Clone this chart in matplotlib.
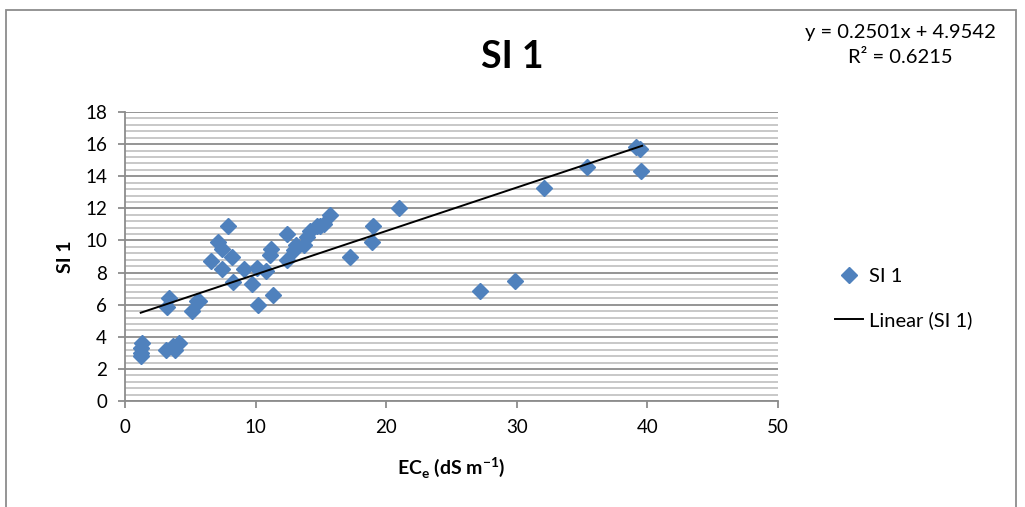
import numpy as np
import matplotlib
matplotlib.use('Agg')
import matplotlib.pyplot as plt
from matplotlib.patches import Rectangle
from matplotlib.ticker import MultipleLocator

plt.rcParams['font.family'] = ['Lato', 'DejaVu Sans']
plt.rcParams['mathtext.fontset'] = 'custom'
plt.rcParams['mathtext.rm'] = 'Lato'
plt.rcParams['mathtext.bf'] = 'Lato:bold'

# data
ece = [1.2, 1.2, 1.3, 1.2, 3.1, 3.7, 3.8, 4.1, 3.2, 3.4, 5.1, 5.5, 5.7,
       6.6, 7.1, 7.4, 7.4, 7.9, 8.2, 8.3, 9.1, 9.7, 10.1, 10.2, 10.8,
       11.3, 11.1, 11.2, 12.4, 12.4, 12.9, 13.1, 13.7, 13.9, 14.2, 14.7,
       14.9, 15.2, 15.7, 17.2, 18.9, 19.0, 21.0, 27.2, 29.9, 32.1, 35.4,
       39.1, 39.4, 39.5]
si1 = [2.8, 3.3, 3.6, 3.0, 3.2, 3.4, 3.2, 3.6, 5.85, 6.4, 5.6, 6.2, 6.2,
       8.7, 9.9, 9.5, 8.2, 10.9, 9.0, 7.4, 8.2, 7.3, 8.3, 6.0, 8.1,
       6.6, 9.1, 9.5, 10.4, 8.8, 9.4, 9.7, 9.7, 10.2, 10.6, 10.9,
       10.9, 11.0, 11.6, 9.0, 9.9, 10.9, 12.0, 6.85, 7.5, 13.3, 14.6,
       15.8, 15.7, 14.3]

# trend line as drawn in the chart (end points) and its label
trend_x = [1.2, 39.6]
trend_y = [5.5, 15.9]
slope = 0.2501
intercept = 4.9542
r2 = 0.6215

blue = '#4F81BD'

fig = plt.figure(figsize=(10.25, 5.07), dpi=100)
ax = fig.add_axes([0.122, 0.209, 0.637, 0.570])

ax.set_axisbelow(True)
ax.yaxis.set_major_locator(MultipleLocator(2))
ax.yaxis.set_minor_locator(MultipleLocator(0.4))
ax.xaxis.set_major_locator(MultipleLocator(10))
ax.grid(axis='y', which='minor', color='#C4C4C4', lw=1.3)
ax.grid(axis='y', which='major', color='#8C8C8C', lw=1.3)

ax.plot(ece, si1, 'D', color=blue, ms=8.5, mec=blue, label='SI 1', zorder=3)
ax.plot(trend_x, trend_y, color='black', lw=1.4, label='Linear (SI 1)', zorder=4)

ax.set_xlim(0, 50)
ax.set_ylim(0, 18)
for s in ['top', 'right']:
    ax.spines[s].set_visible(False)
for s in ['left', 'bottom']:
    ax.spines[s].set_color('#8C8C8C')
    ax.spines[s].set_linewidth(1.3)
ax.tick_params(which='major', length=5, color='#8C8C8C', width=1.3, labelsize=13.5, pad=8)
ax.tick_params(which='minor', length=0)

fig.text(0.5, 0.887, 'SI 1', ha='center', va='center', fontsize=27, fontweight='bold')
ax.set_ylabel('SI 1', fontsize=14, fontweight='bold', labelpad=8)
ax.set_xlabel(r'EC$_\mathbf{e}$ (dS m$^{\mathbf{-1}}$)', fontsize=14, fontweight='bold', labelpad=14)

fig.text(0.878, 0.935, 'y = %.4fx + %.4f' % (slope, intercept), ha='center', va='center', fontsize=14.5)
fig.text(0.878, 0.887, 'R\u00b2 = %.4f' % r2, ha='center', va='center', fontsize=14.5)

ax.legend(loc='center left', bbox_to_anchor=(0.805, 0.412), bbox_transform=fig.transFigure,
          frameon=False, fontsize=14.5, handlelength=1.4, handletextpad=0.3, labelspacing=1.3,
          borderpad=0)

fig.patches.append(Rectangle((0.006, -0.05), 0.985, 1.03, transform=fig.transFigure,
                             fill=False, ec='#8C8C8C', lw=1.3))

fig.savefig('out.png', dpi=100)
